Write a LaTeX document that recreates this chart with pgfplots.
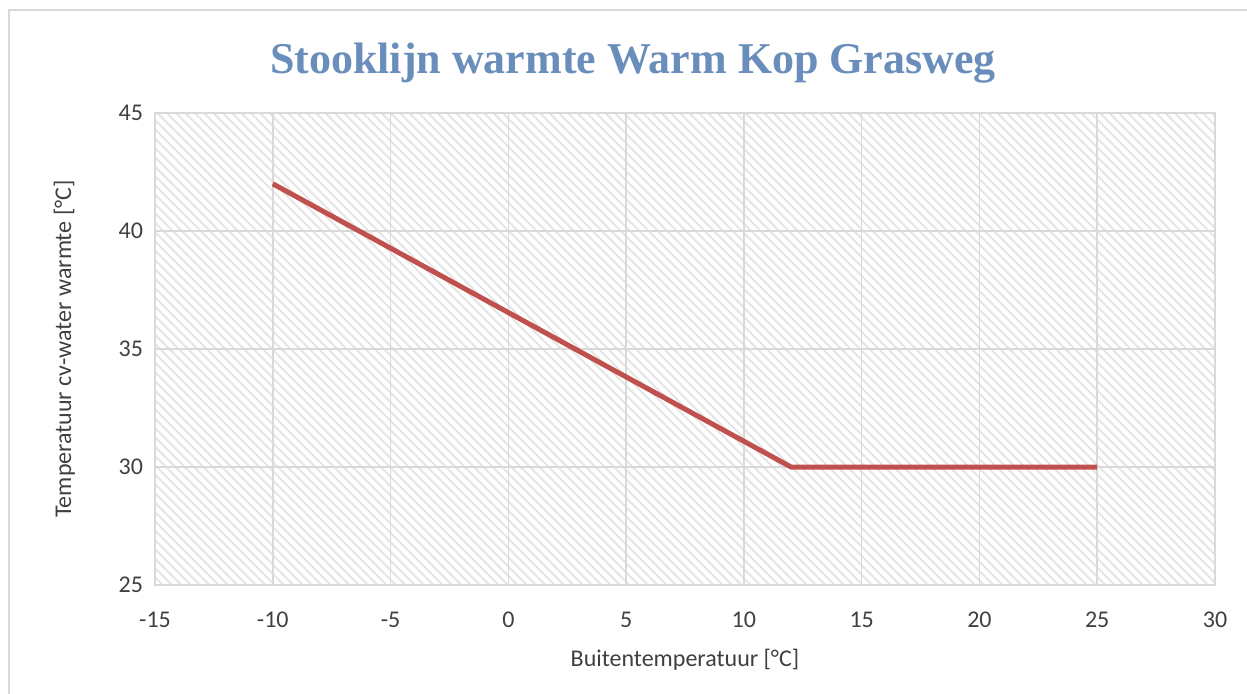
\documentclass[border=0pt]{standalone}
\usepackage{pgfplots}
\pgfplotsset{compat=1.18}
\usepackage{fontspec}
\setmainfont{Carlito}
\newfontfamily\titlefont{Liberation Serif}
\usetikzlibrary{patterns.meta}
\definecolor{titleblue}{HTML}{6A8EBB}
\definecolor{linered}{HTML}{C0504D}
\definecolor{gridgray}{HTML}{D9D9D9}
\definecolor{textgray}{HTML}{404040}
\begin{document}
\begin{tikzpicture}
\useasboundingbox (0,0) rectangle (623.5pt,346.5pt);
\draw[gridgray, line width=1pt] (4.5pt,-2pt) rectangle (626pt,341.5pt);
\begin{axis}[
  at={(77.5pt,54pt)}, anchor=south west,
  scale only axis, width=530pt, height=236pt,
  xmin=-15, xmax=30, ymin=25, ymax=45,
  xtick={-15,-10,...,30}, ytick={25,30,...,45},
  grid=major, major grid style={gridgray, line width=0.8pt},
  axis line style={gridgray, line width=0.8pt},
  tick style={draw=none},
  ticklabel style={font=\fontsize{12}{14}\selectfont, text=textgray},
  /pgf/number format/assume math mode=true,
  xticklabel style={yshift=-10pt},
  yticklabel style={xshift=-2.5pt},
  label style={font=\fontsize{12}{14}\selectfont, text=textgray},
  xlabel={Buitentemperatuur [°C]},
  ylabel={Temperatuur cv-water warmte [°C]},
  xlabel style={yshift=-4pt},
  ylabel style={yshift=15pt},
  axis background/.style={pattern={Lines[angle=-45, distance=3.3pt, line width=1pt]}, pattern color=black!10},
  clip=false,
]
\addplot[linered, line width=2.5pt, line join=round] coordinates {(-10,42) (12,30) (25,30)};
\end{axis}
\node[font=\titlefont\bfseries\fontsize{22}{26}\selectfont, text=titleblue] at (316.5pt,315pt) {Stooklijn warmte Warm Kop Grasweg};
\end{tikzpicture}
\end{document}
